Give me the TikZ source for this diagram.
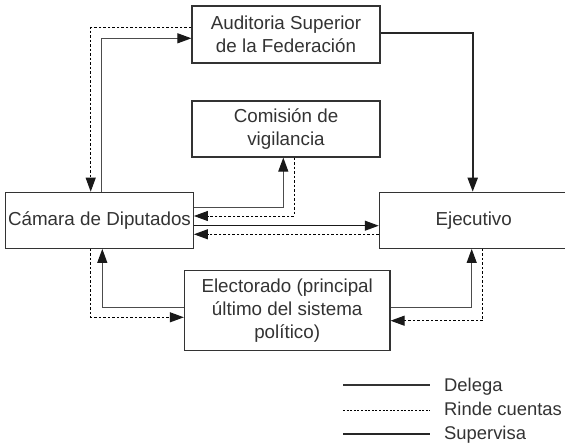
\documentclass[tikz,border=0pt]{standalone}
\usepackage{fontspec}
\setmainfont{Liberation Sans}
\usetikzlibrary{arrows.meta}
\begin{document}
\begin{tikzpicture}[x=1pt,y=-1pt,
  box/.style={draw=black!80, line width=1.2pt, inner sep=1pt, align=center,
    font=\fontsize{18.8}{23.3}\selectfont, text=black!80},
  tip/.style={-{Triangle[length=14pt,width=10pt,color=black!90]}},
  delega/.style={draw=black!70, line width=1.1pt, tip},
  rinde/.style={draw=black, line width=1pt, dash pattern=on 2.5pt off 2pt, tip},
  supervisa/.style={draw=black!85, line width=2pt, tip},
  legtext/.style={anchor=base west, inner sep=0pt, font=\fontsize{18.4}{22}\selectfont, text=black!80}]
\clip (0,0) rectangle (565,442);
\fill[white] (0,0) rectangle (565,442);
% boxes
\node[box, minimum width=188pt, minimum height=57pt] (aud) at (286,34.5) {Auditoria Superior\\de la Federación};
\node[box, minimum width=188pt, minimum height=56pt] (com) at (286,129) {Comisión de\\vigilancia};
\node[box, minimum width=187.6pt, minimum height=56pt] (cam) at (99.5,220.3) {Cámara de Diputados};
\node[box, minimum width=188.7pt, minimum height=56pt] (eje) at (473.7,220.3) {Ejecutivo};
\node[box, minimum width=205.5pt, minimum height=80.2pt] (ele) at (287.2,310.6) {Electorado (principal\\último del sistema\\político)};
% connectors
\draw[delega] ([xshift=2.2pt]cam.north) |- ([yshift=-3.8pt]aud.west);
\draw[rinde] ([yshift=6.8pt]aud.west) -| ([xshift=-8.8pt]cam.north);
\draw[delega] ([yshift=12.6pt]cam.east) -| ([xshift=-2.7pt]com.south);
\draw[rinde] ([xshift=8pt]com.south) |- ([yshift=4.3pt]cam.east);
\draw[delega, draw=black!90] ([yshift=-5.4pt]cam.east) -- ([yshift=-5.4pt]eje.west);
\draw[rinde] ([yshift=-14pt]eje.west) -- ([yshift=-14pt]cam.east);
\draw[supervisa] ([yshift=1.2pt]aud.east) -| ([xshift=-1pt]eje.north);
\draw[delega] ([yshift=3.3pt]ele.west) -| ([xshift=2.8pt]cam.south);
\draw[rinde] ([xshift=-8.8pt]cam.south) |- ([yshift=-6.7pt]ele.west);
\draw[delega] ([yshift=2.9pt]ele.east) -| ([xshift=-2pt]eje.south);
\draw[rinde] ([xshift=9pt]eje.south) |- ([yshift=-10.1pt]ele.east);
% legend
\coordinate (l1a) at (343,385); \coordinate (l1b) at (430,385);
\coordinate (l2a) at (343,410); \coordinate (l2b) at (430,410);
\coordinate (l3a) at (343,434); \coordinate (l3b) at (430,434);
\draw[draw=black!80, line width=1.1pt] (l1a) -- (l1b);
\draw[draw=black, line width=0.9pt, dash pattern=on 2pt off 1.6pt] (l2a) -- (l2b);
\draw[draw=black!85, line width=2pt] (l3a) -- (l3b);
\node[legtext] (t1) at (444,391.5) {Delega};
\node[legtext] (t2) at (444,415.5) {Rinde cuentas};
\node[legtext] (t3) at (444,439) {Supervisa};
\end{tikzpicture}
\end{document}
